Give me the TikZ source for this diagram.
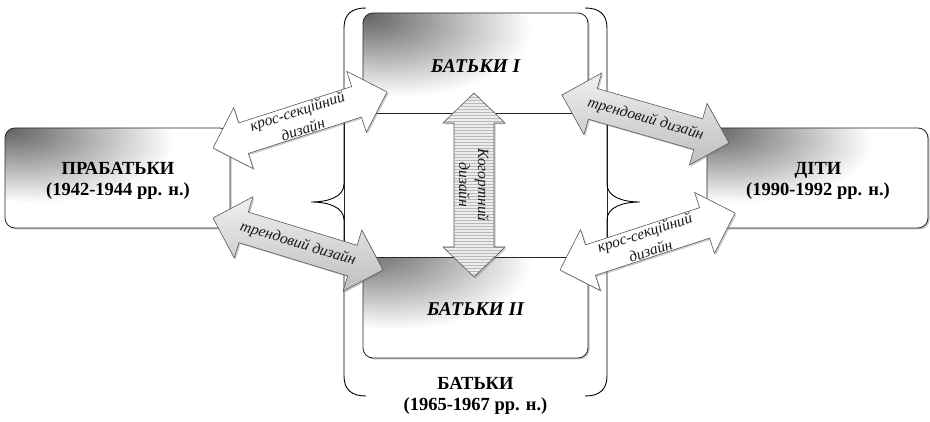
\documentclass[tikz,border=0pt]{standalone}
\usepackage{fontspec}
\setmainfont{Liberation Serif}
\usetikzlibrary{calc,shadows,patterns}
\pgfdeclareradialshading{cornerrad}{\pgfpoint{-25bp}{25bp}}{color(0bp)=(black!62); color(6bp)=(black!50); color(30bp)=(white); color(100bp)=(white)}
\def\ahl{32pt}\def\ahw{32pt}\def\asw{16pt}
\newcommand{\blockarrow}[4][]{%
  \coordinate (#4p) at ($(#2)!\ahl!(#3)$);
  \coordinate (#4q) at ($(#3)!\ahl!(#2)$);
  \path[#1] (#2) -- ($(#4p)!\ahw!90:(#3)$) -- ($(#4p)!\asw!90:(#3)$)
    -- ($(#4q)!\asw!-90:(#2)$) -- ($(#4q)!\ahw!-90:(#2)$) -- (#3)
    -- ($(#4q)!\ahw!90:(#2)$) -- ($(#4q)!\asw!90:(#2)$)
    -- ($(#4p)!\asw!-90:(#3)$) -- ($(#4p)!\ahw!-90:(#3)$) -- cycle;}
\begin{document}
\begin{tikzpicture}[x=1pt,y=-1pt,
  box/.style={draw=black!85, line width=0.8pt, rounded corners=10pt, shading=cornerrad,
    drop shadow={shadow xshift=1.5pt, shadow yshift=-1.5pt, opacity=0.45}, inner sep=0pt},
  boxtext/.style={font=\fontsize{18.5}{21.5}\selectfont\bfseries, align=center},
  partext/.style={font=\fontsize{19.5}{22}\selectfont\bfseries\itshape},
  arrtext/.style={font=\fontsize{15.5}{19}\selectfont\itshape, align=center, text=black!90, inner sep=0pt},
  shadowed/.style={drop shadow={shadow xshift=1.5pt, shadow yshift=-1.5pt, opacity=0.4}},
  whitearrow/.style={shadowed, fill=white, draw=black!65, line width=0.6pt},
  grayarrow/.style={shadowed, top color=gray!12, bottom color=gray!50, draw=black!65, line width=0.6pt},
  hatcharrow/.style={shadowed, preaction={fill=gray!15}, pattern=horizontal lines, pattern color=gray!55, draw=black!65, line width=0.6pt},
  bracepath/.style={draw=black, line width=0.9pt}]
\fill[white] (0,0) rectangle (930,422);
\useasboundingbox (0,0) rectangle (930,422);

% boxes
\node[box, minimum width=225pt, minimum height=100pt] (prab) at (117.5,178) {};
\node[box, minimum width=221pt, minimum height=100pt] (diti) at (817.5,178) {};
\node[box, minimum width=225pt, minimum height=112pt] (bat1) at (475.5,69) {};
\node[box, minimum width=225pt, minimum height=113pt] (bat2) at (475.5,301.5) {};
\draw[line width=0.8pt, draw=black!85, fill=white] (344,113) rectangle (607,257);

% braces
\draw[bracepath] (366,8) .. controls (352,8) and (344,14) .. (344,28) -- (344,184)
  .. controls (344,197) and (328,202) .. (311,202)
  .. controls (328,202) and (344,207) .. (344,220) -- (344,376)
  .. controls (344,390) and (352,396) .. (366,396);
\draw[bracepath] (585,8) .. controls (599,8) and (607,14) .. (607,28) -- (607,184)
  .. controls (607,197) and (623,202) .. (640,202)
  .. controls (623,202) and (607,207) .. (607,220) -- (607,376)
  .. controls (607,390) and (599,396) .. (585,396);

% texts
\node[boxtext] (prabt) at (118,181) {ПРАБАТЬКИ\\(1942-1944 рр. н.)};
\node[boxtext] (ditit) at (818,181) {ДІТИ\\(1990-1992 рр. н.)};
\node[partext] (bat1t) at (475.5,66) {БАТЬКИ I};
\node[partext] (bat2t) at (475.5,309) {БАТЬКИ II};
\node[boxtext] (batt) at (475.5,396) {БАТЬКИ\\(1965-1967 рр. н.)};

% arrow ends
\coordinate (a1s) at (213,148); \coordinate (a1e) at (387,92);
\coordinate (a2s) at (213,218); \coordinate (a2e) at (383,270);
\coordinate (a3s) at (562,95);  \coordinate (a3e) at (729,143);
\coordinate (a4s) at (560,270); \coordinate (a4e) at (735,213);
\coordinate (a5s) at (474,93);  \coordinate (a5e) at (474,277);

\blockarrow[whitearrow]{a1s}{a1e}{ar1}
\blockarrow[grayarrow]{a2s}{a2e}{ar2}
\blockarrow[grayarrow]{a3s}{a3e}{ar3}
\blockarrow[whitearrow]{a4s}{a4e}{ar4}
\def\ahl{30pt}\def\ahw{31pt}\def\asw{20pt}
\blockarrow[hatcharrow]{a5s}{a5e}{ar5}

\path (a1s) -- node[arrtext, sloped] (l1) {крос-секційний\\дизайн} (a1e);
\path (a2s) -- node[arrtext, sloped] (l2) {трендовий дизайн} (a2e);
\path (a3s) -- node[arrtext, sloped] (l3) {трендовий дизайн} (a3e);
\path (a4s) -- node[arrtext, sloped] (l4) {крос-секційний\\дизайн} (a4e);
\node[arrtext, rotate=-90] (l5) at ($(a5s)!0.5!(a5e)$) {Когортний\\дизайн};
\end{tikzpicture}
\end{document}
